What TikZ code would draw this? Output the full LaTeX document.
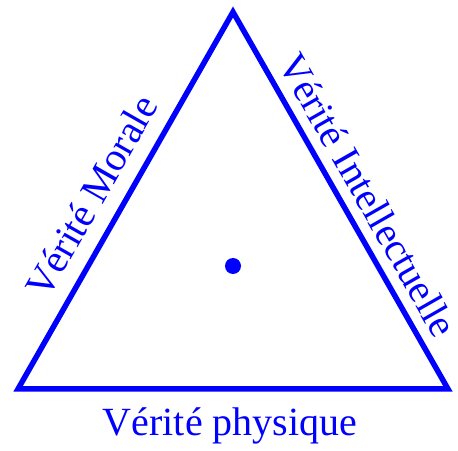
\documentclass[tikz,border=0pt]{standalone}
\usepackage{fontspec}
\setmainfont{Liberation Serif}
\usetikzlibrary{calc}

\begin{document}
\begin{tikzpicture}[x=1pt,y=1pt,
    sidetext/.style={blue,font=\fontsize{40}{48}\selectfont,inner sep=0pt,anchor=base}]
    \useasboundingbox (0,0) rectangle (458,450);
    \coordinate (A) at (18,61);
    \coordinate (B) at (233,438);
    \coordinate (C) at (448,61);
    \coordinate (mAB) at ($(A)!0.47!(B)$);
    \coordinate (mBC) at ($(B)!0.52!(C)$);
    \draw[blue,line width=5.5pt,line join=miter] (A) -- (B) -- (C) -- cycle;
    \node[circle,fill=blue,inner sep=0pt,minimum size=16pt] (centre) at (233,184) {};
    \node[sidetext] (physique) at (230,15) {Vérité physique};
    \node[sidetext,rotate=60.3] (morale) at ($(mAB)!18pt!90:(B)$) {Vérité Morale};
    \node[sidetext,rotate=-60.3] (intellect) at ($(mBC)!13pt!90:(C)$) {Vérité Intellectuelle};
\end{tikzpicture}
\end{document}
